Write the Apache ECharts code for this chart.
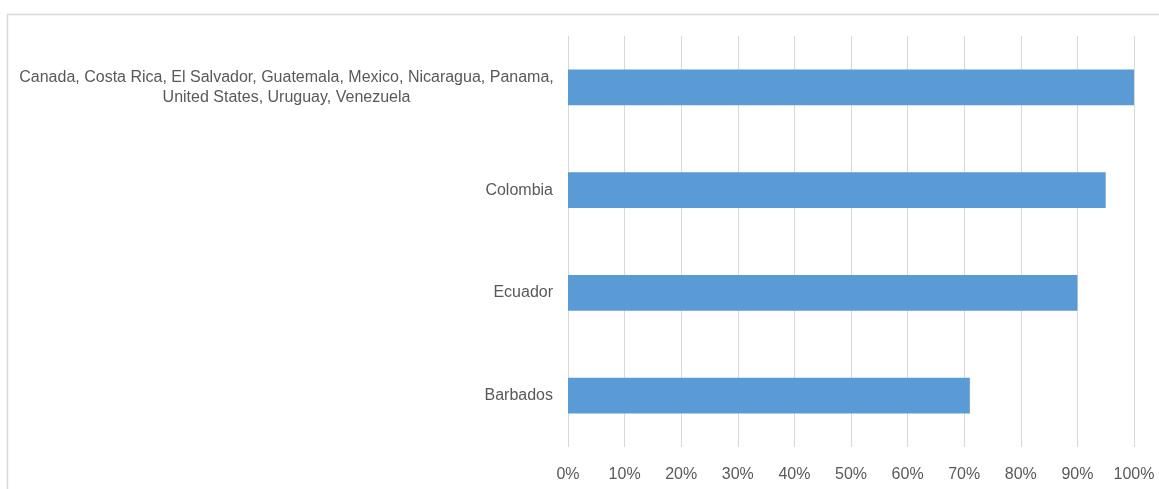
<!DOCTYPE html>
<html>
<head>
    <meta charset="utf-8">
    <title>Bar chart</title>
    <script src="https://cdn.jsdelivr.net/npm/echarts@6/dist/echarts.min.js"></script>
    <style>
        html, body { margin: 0; padding: 0; background: #fff; }
    </style>
</head>
<body>
    <div id="main" style="width: 1159px;height:489px;"></div>
    <script type="text/javascript">
        // categories, bottom to top (category axis starts at the bottom)
        var categories = [
            'Barbados',
            'Ecuador',
            'Colombia',
            'Canada, Costa Rica, El Salvador, Guatemala, Mexico, Nicaragua, Panama,\nUnited States, Uruguay, Venezuela'
        ];
        // share, in percent
        var values = [71, 90, 95, 100];
        var tickLabels = ['0%', '10%', '20%', '30%', '40%', '50%', '60%', '70%', '80%', '90%', '100%'];

        var font = '"Liberation Sans Narrow", "Arial Narrow", "Liberation Sans", sans-serif';
        var textColor = '#595959';

        var myChart = echarts.init(document.getElementById('main'));

        var option = {
            animation: false,
            graphic: [{
                type: 'rect',
                left: 5,
                top: 12,
                shape: { width: 1300, height: 700 },
                style: { fill: 'none', stroke: '#d9d9d9', lineWidth: 1.5 },
                silent: true
            }],
            grid: {
                left: 568,
                right: 25,
                top: 36,
                bottom: 42
            },
            xAxis: {
                type: 'value',
                min: 0,
                max: 100,
                interval: 10,
                axisLine: { show: false },
                axisTick: { show: false },
                splitLine: { lineStyle: { color: '#d9d9d9', width: 1 } },
                axisLabel: {
                    margin: 20,
                    color: textColor,
                    fontFamily: font,
                    fontSize: 16,
                    formatter: function (v) { return tickLabels[Math.round(v / 10)]; }
                }
            },
            yAxis: {
                type: 'category',
                data: categories,
                axisLine: { show: false },
                axisTick: { show: false },
                axisLabel: {
                    margin: 15,
                    color: textColor,
                    fontFamily: font,
                    fontSize: 16,
                    lineHeight: 20,
                    formatter: function (v) {
                        if (v.indexOf('\n') < 0) return v;
                        return v.split('\n').map(function (s) { return '{c|' + s + '}'; }).join('\n');
                    },
                    rich: {
                        c: {
                            width: 533,
                            align: 'center',
                            color: textColor,
                            fontFamily: font,
                            fontSize: 16,
                            lineHeight: 20
                        }
                    }
                }
            },
            series: [{
                type: 'bar',
                data: values,
                barWidth: '35%',
                itemStyle: { color: '#5b9bd5' }
            }]
        };
        myChart.setOption(option);
    </script>
</body>
</html>
